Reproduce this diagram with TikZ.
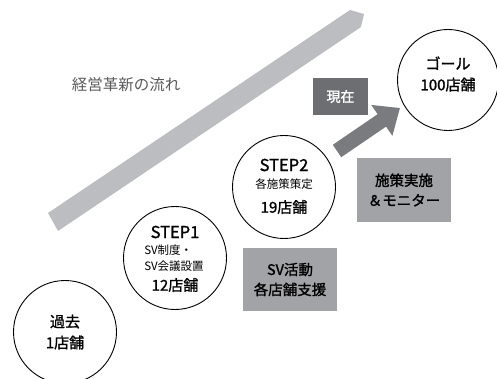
\documentclass[tikz,border=0pt]{standalone}
\usepackage{fontspec}
\newfontfamily\jp[FakeBold=1.4]{Noto Sans CJK JP}
\newfontfamily\jpl{Noto Sans CJK JP}
\usetikzlibrary{arrows.meta}
\definecolor{bandgray}{HTML}{BCBDC0}
\definecolor{arrowgray}{HTML}{7A7B7E}
\definecolor{darkbox}{HTML}{6D6E71}
\definecolor{midbox}{HTML}{A2A3A6}
\definecolor{txtgray}{HTML}{58595B}
\begin{document}
\begin{tikzpicture}[x=1pt,y=-1pt,
  stage/.style={circle,draw=black,line width=0.9pt,fill=white,minimum size=103pt,inner sep=0pt,align=center,font=\jp},
  tagbox/.style={fill=midbox,minimum width=94pt,minimum height=63pt,inner sep=0pt,align=center,font=\jp\fontsize{14.5}{20}\selectfont},
]
\useasboundingbox (0,0) rectangle (497,379);
% band
\fill[bandgray] (48,213) -- (350,10) -- (364,14) -- (361,27) -- (58,231) -- cycle;
\node[font=\jpl\fontsize{15.5}{18}\selectfont,text=txtgray] (flow) at (126,85) {経営革新の流れ};
% circles
\node[stage] (past) at (65,332) {};
\node[font=\jp\fontsize{15}{20}\selectfont,align=center] (pastt) at (65,332) {過去\\[1pt]1店舗};
\node[stage] (s1) at (175,258) {};
\node[font=\jp\fontsize{16.5}{18}\selectfont] (s1a) at (175,232) {STEP1};
\node[font=\jpl\fontsize{11.5}{16}\selectfont,align=left] (s1b) at (174,258) {SV制度・\\SV会議設置};
\node[font=\jp\fontsize{15}{18}\selectfont] (s1c) at (175,285) {12店舗};
\node[stage] (s2) at (284,187) {};
\node[font=\jp\fontsize{16.5}{18}\selectfont] (s2a) at (284,165) {STEP2};
\node[font=\jpl\fontsize{11.5}{16}\selectfont] (s2b) at (284,184) {各施策策定};
\node[font=\jp\fontsize{15}{18}\selectfont] (s2c) at (284,207) {19店舗};
\node[stage,minimum size=101pt] (goal) at (448,80) {};
\node[font=\jp\fontsize{15}{21}\selectfont,align=center] (goalt) at (448,74) {ゴール\\100店舗};
% boxes
\node[fill=darkbox,minimum width=55pt,minimum height=37pt,inner sep=0pt,text=white,font=\jp\fontsize{14}{18}\selectfont] (now) at (340.5,96.5) {現在};
\node[tagbox] (impl) at (404,190) {施策実施\\＆モニター};
\node[tagbox] (sv) at (290,279.5) {SV活動\\各店舗支援};
% dark arrow
\coordinate (as) at (337,151);
\coordinate (ae) at (400,108);
\draw[arrowgray,line width=15pt,-{Triangle[length=22pt,width=36pt]}] (as) -- (ae);
\end{tikzpicture}
\end{document}
